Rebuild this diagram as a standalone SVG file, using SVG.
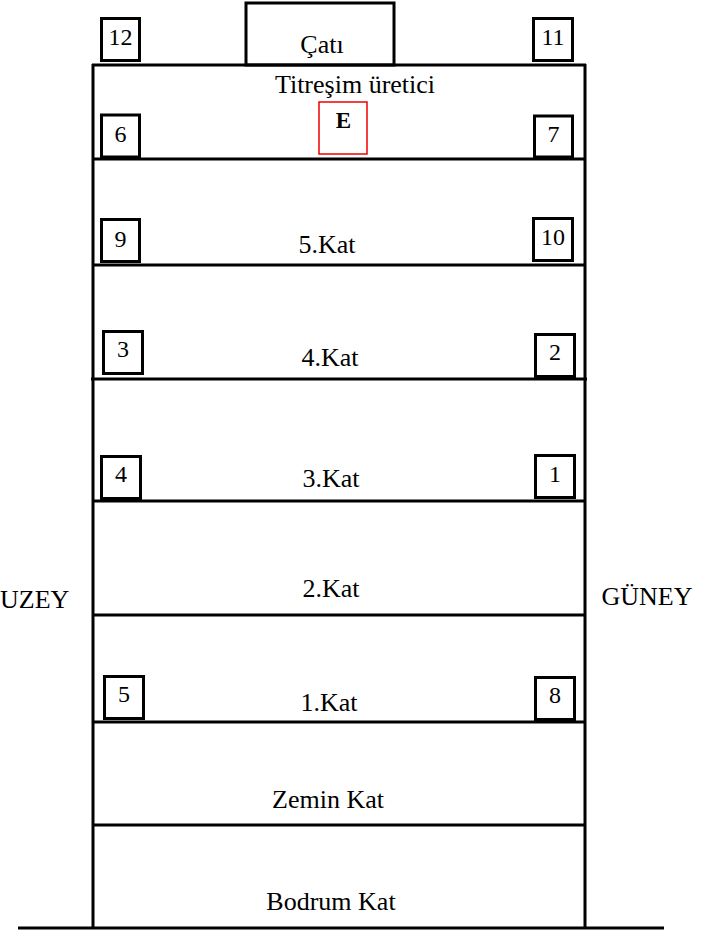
<svg xmlns="http://www.w3.org/2000/svg" width="702" height="930" viewBox="0 0 702 930">
<style>
.ln{stroke:#000;stroke-width:3;fill:none}
.bx{stroke:#000;stroke-width:3;fill:#fff}
.t{font-family:"Liberation Serif","Times New Roman",serif;font-size:26px;fill:#000;text-anchor:middle}
.n{font-family:"Liberation Serif","Times New Roman",serif;font-size:24px;fill:#000;text-anchor:middle}
</style>
<rect width="702" height="930" fill="#fff"/>
<g id="building">
<rect id="roof" x="246" y="3" width="148" height="62" class="ln"/>
<line x1="92" y1="65" x2="586" y2="65" class="ln"/>
<line x1="93" y1="64" x2="93" y2="928" class="ln"/>
<line x1="585" y1="64" x2="585" y2="928" class="ln"/>
<line x1="92" y1="159" x2="586" y2="159" class="ln"/>
<line x1="92" y1="265" x2="586" y2="265" class="ln"/>
<line x1="91" y1="379" x2="587" y2="379" class="ln"/>
<line x1="92" y1="501" x2="586" y2="501" class="ln"/>
<line x1="92" y1="615" x2="586" y2="615" class="ln"/>
<line x1="92" y1="722" x2="586" y2="722" class="ln"/>
<line x1="92" y1="825" x2="586" y2="825" class="ln"/>
<line x1="18" y1="928" x2="664" y2="928" class="ln"/>
</g>
<g id="labels">
<text class="t" x="322" y="53">Çatı</text>
<text class="t" x="355" y="93">Titreşim üretici</text>
<text class="t" x="327" y="253">5.Kat</text>
<text class="t" x="330" y="366">4.Kat</text>
<text class="t" x="331" y="487">3.Kat</text>
<text class="t" x="331" y="597">2.Kat</text>
<text class="t" x="329" y="711">1.Kat</text>
<text class="t" x="328" y="808">Zemin Kat</text>
<text class="t" x="331" y="910">Bodrum Kat</text>
<text class="t" x="0" y="608" style="text-anchor:start">UZEY</text>
<text class="t" x="647" y="605">GÜNEY</text>
</g>
<g id="E">
<rect x="319" y="102" width="48" height="52" fill="none" stroke="#e00" stroke-width="1.5"/>
<text x="343.5" y="128" font-family="Liberation Serif, serif" font-size="23" font-weight="bold" text-anchor="middle">E</text>
</g>
<g id="s12"><rect class="bx" x="101.5" y="18.5" width="38" height="42"/><text class="n" x="120.5" y="45">12</text></g>
<g id="s11"><rect class="bx" x="533.5" y="18.5" width="39" height="42"/><text class="n" x="553" y="45">11</text></g>
<g id="s6"><rect class="bx" x="101.5" y="115" width="38" height="42"/><text class="n" x="120.5" y="142">6</text></g>
<g id="s7"><rect class="bx" x="534.5" y="116" width="38" height="41"/><text class="n" x="553.5" y="142">7</text></g>
<g id="s9"><rect class="bx" x="101.5" y="219.5" width="38" height="42"/><text class="n" x="120.5" y="247">9</text></g>
<g id="s10"><rect class="bx" x="533.5" y="218.5" width="39" height="42"/><text class="n" x="553" y="245">10</text></g>
<g id="s3"><rect class="bx" x="103.5" y="331.5" width="39" height="42"/><text class="n" x="123" y="357">3</text></g>
<g id="s2"><rect class="bx" x="535.5" y="334.5" width="39" height="42"/><text class="n" x="555" y="360">2</text></g>
<g id="s4"><rect class="bx" x="101.5" y="456.5" width="39" height="42"/><text class="n" x="121" y="482">4</text></g>
<g id="s1"><rect class="bx" x="535.5" y="455.5" width="39" height="42"/><text class="n" x="555" y="482">1</text></g>
<g id="s5"><rect class="bx" x="104.5" y="676.5" width="39" height="42"/><text class="n" x="124" y="702">5</text></g>
<g id="s8"><rect class="bx" x="535.5" y="677.5" width="39" height="42"/><text class="n" x="555" y="703">8</text></g>
</svg>
